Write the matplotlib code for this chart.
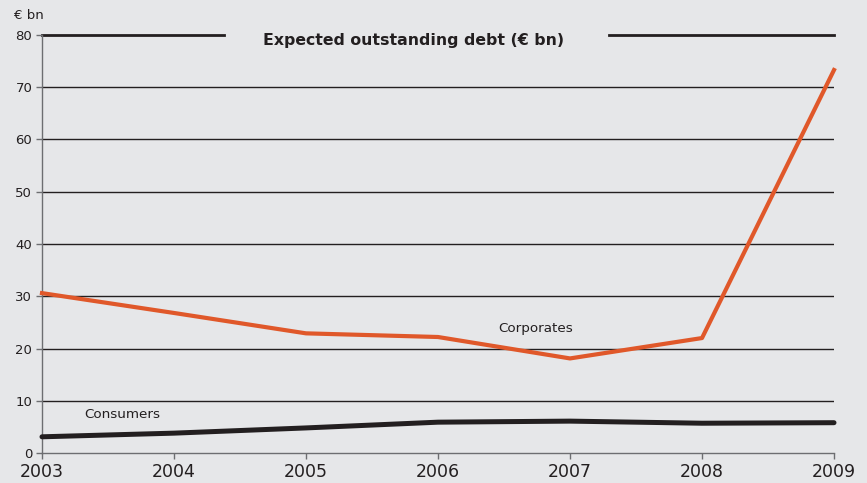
import matplotlib.pyplot as plt

years = [2003, 2004, 2005, 2006, 2007, 2008, 2009]
corporates = [30.6, 26.8, 22.9, 22.2, 18.1, 22.0, 73.3]
consumers = [3.1, 3.8, 4.8, 5.9, 6.1, 5.7, 5.8]
y_ticks = [0, 10, 20, 30, 40, 50, 60, 70, 80]

bg = '#e6e7e9'
ink = '#231f20'
orange = '#e0582a'

fig = plt.figure(figsize=(8.67, 4.83), dpi=100, facecolor=bg)
ax = fig.add_axes([42 / 867, 30 / 483, 792 / 867, 418 / 483], facecolor=bg)

ax.set_xlim(2003, 2009)
ax.set_ylim(0, 80)

# gridlines, the top one broken for the title
for v in y_ticks[1:-1]:
    ax.axhline(v, color=ink, lw=1.0, zorder=1)
ax.axhline(80, xmin=0, xmax=(224 - 42) / 792, color=ink, lw=2.0, zorder=1, clip_on=False)
ax.axhline(80, xmin=(609 - 42) / 792, xmax=1, color=ink, lw=2.0, zorder=1, clip_on=False)

ax.plot(years, corporates, color=orange, lw=3.0, zorder=3, clip_on=False)
ax.plot(years, consumers, color=ink, lw=3.6, zorder=3, clip_on=False,
        solid_capstyle='round')

ax.text(0.469, 79.0, 'Expected outstanding debt (€ bn)', ha='center', va='center',
        fontsize=11.3, fontweight='bold', color=ink,
        transform=ax.get_yaxis_transform())
ax.text(2006.74, 23.9, 'Corporates', ha='center', va='center', fontsize=9.7, color=ink)
ax.text(2003.61, 7.4, 'Consumers', ha='center', va='center', fontsize=9.7, color=ink)
ax.text(-0.035, 1.03, '€ bn', transform=ax.transAxes, ha='left', va='bottom',
        fontsize=9.5, color=ink)

ax.set_xticks(years)
ax.set_xticklabels([str(y) for y in years], fontsize=12.5, color=ink)
ax.set_yticks(y_ticks)
ax.set_yticklabels([str(v) for v in y_ticks], fontsize=9.5, color=ink)
ax.tick_params(axis='both', direction='out', length=4, width=1, color='#6d6e71', pad=3)

for s in ['top', 'right']:
    ax.spines[s].set_visible(False)
for s in ['left', 'bottom']:
    ax.spines[s].set_color('#6d6e71')
    ax.spines[s].set_linewidth(1.0)

fig.savefig('out.png', dpi=100, facecolor=bg)
